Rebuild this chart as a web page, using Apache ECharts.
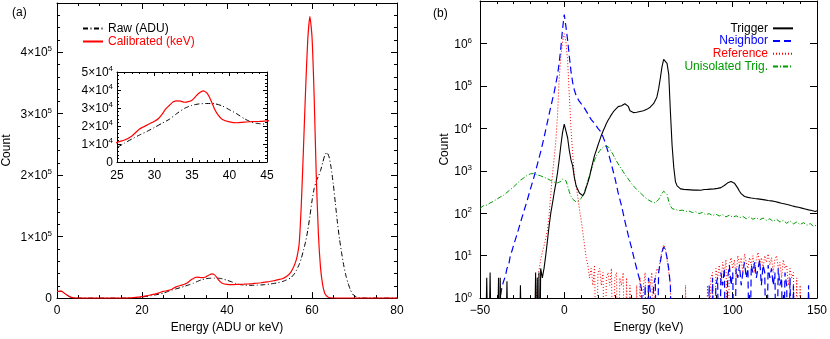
<!DOCTYPE html>
<html>
<head>
<meta charset="utf-8">
<script src="https://cdn.jsdelivr.net/npm/echarts@6/dist/echarts.min.js"></script>
<style>html,body{margin:0;padding:0;background:#fff}#c{width:830px;height:339px}</style>
</head>
<body>
<div id="c"></div>
<script>
// ---------- Panel (a): energy spectra, linear scale ----------
const rawADU = [[0,10500],[1,11000],[2,6200],[3,2000],[4,400],[5,100],[6,0],[10,0],[14,0],[16,50],[17,200],[18,600],[19,1100],[20,1800],[21,2700],[22,3800],[23,5000],[24,6400],[25,8000],[26,10500],[27,12800],[28,15000],[29,17000],[30,19200],[31,21500],[32,23800],[33,27000],[34,29800],[35,31500],[36,32300],[37,32500],[38,32400],[39,31200],[40,29000],[41,26700],[42,24000],[43,22000],[44,21300],[45,21000],[46,20800],[47,21000],[48,21400],[49,22000],[50,22800],[51,23800],[52,25000],[53,26800],[54,29500],[55,33000],[56,41000],[57,55000],[57.5,65000],[58,78000],[58.5,92000],[59,110000],[59.5,133000],[60,158000],[60.5,178000],[61,190000],[61.5,198000],[62,207000],[62.5,220000],[63,232000],[63.5,237000],[64,230000],[64.5,212000],[65,186000],[65.5,154000],[66,122000],[66.5,95000],[67,72000],[67.5,52000],[68,36000],[68.5,24000],[69,14000],[69.5,7000],[70,3500],[71,800],[72,100],[73,0],[80,0]];

const calibratedKeV = [[0,11000],[1,11500],[2,6500],[3,2200],[4,400],[5,100],[6,0],[10,0],[14,0],[16,100],[17,300],[18,800],[19,1500],[20,2500],[21,3600],[22,5000],[23,6500],[24,8500],[25,10900],[26,12200],[27,14500],[28,18300],[29,20500],[30,22600],[30.5,24000],[31,26500],[31.5,29500],[32,31500],[32.5,33500],[33,34000],[33.5,33800],[34,33200],[34.5,33500],[35,34300],[35.5,36500],[36,38500],[36.5,39500],[37,38200],[37.5,34500],[38,29500],[38.5,26000],[39,23800],[40,22300],[41,21800],[42,22200],[43,22400],[44,22600],[45,22900],[46,23500],[47,24200],[48,25000],[49,26000],[50,27000],[51,28200],[52,30000],[53,31500],[54,35000],[55,42000],[55.5,48000],[56,56000],[56.5,68000],[57,90000],[57.5,155000],[58,245000],[58.5,340000],[59,420000],[59.5,458000],[60,425000],[60.5,330000],[61,200000],[61.5,105000],[62,50000],[62.5,22000],[63,8000],[63.5,3000],[64,1000],[65,200],[66,0],[70,0],[80,0]];

// ---------- Panel (b): spectra, log scale (0.01 = empty bin) ----------
const triggerSpec = [[-50,0.01],[-47,0.01],[-46,3],[-45,0.01],[-44,4],[-43,0.01],[-40,0.01],[-39,3],[-38.5,0.01],[-38,3],[-37,0.01],[-35,0.01],[-34,2.5],[-33,0.01],[-27,0.01],[-26,2],[-25,0.01],[-18,0.01],[-17,4],[-16.5,0.01],[-16,3],[-15.5,0.01],[-15,4],[-14.5,0.01],[-14,5],[-13,3],[-12,5],[-11,10],[-10,22],[-9,50],[-8,100],[-7,170],[-6,300],[-5,500],[-4,900],[-3,1800],[-2,4000],[-1,8000],[0,12500],[0.5,13000],[1,11500],[2,6000],[3,3000],[4,1800],[5,1300],[6,700],[7,450],[8,360],[9,300],[10,270],[11,260],[12,300],[13,400],[14,530],[15,720],[16,1100],[17,1600],[18,2300],[19,3000],[20,4000],[21,5200],[22,6800],[23,8500],[24,10500],[25,13000],[26,15500],[27,18000],[28,21000],[29,24000],[30,27000],[31,30000],[32,32500],[33,34000],[34,34000],[35,35500],[36,38000],[37,39000],[38,33000],[39,26000],[40,24000],[41,23500],[42,23500],[43,24000],[44,24500],[45,25000],[46,25500],[47,26000],[48,27000],[49,28000],[50,29500],[51,31500],[52,34000],[53,38000],[54,45000],[55,55000],[56,85000],[57,150000],[58,280000],[59,420000],[60,455000],[61,340000],[62,190000],[63,25000],[64,4000],[65,1200],[66,550],[67,440],[68,400],[69,375],[70,370],[71,365],[72,372],[73,360],[74,368],[75,355],[76,362],[77,350],[78,358],[79,352],[80,360],[81,348],[82,356],[83,362],[84,352],[85,365],[86,358],[87,370],[88,362],[89,375],[90,370],[91,385],[92,380],[93,400],[94,420],[95,450],[96,480],[97,520],[98,545],[99,560],[100,545],[101,510],[102,460],[103,390],[104,330],[105,290],[106,262],[107,248],[108,240],[109,236],[110,232],[111,228],[112,233],[113,222],[114,226],[115,218],[116,224],[117,212],[118,218],[119,206],[120,212],[121,200],[122,205],[123,195],[124,199],[125,188],[126,194],[127,180],[128,186],[129,172],[130,178],[131,165],[132,172],[133,158],[134,163],[135,150],[136,156],[137,143],[138,150],[139,138],[140,144],[141,132],[142,138],[143,126],[144,132],[145,120],[146,125],[147,116],[148,121],[149,110],[150,114]];

const neighborSpec = [[-40,0.01],[-38,1],[-37,1.8],[-36,2.5],[-35,3.2],[-34,5],[-33,6],[-32,10],[-31,13],[-30,18],[-28,32],[-26,60],[-24,110],[-22,200],[-20,380],[-18,700],[-16,1400],[-14,2800],[-12,6000],[-10,14000],[-8,32000],[-6,70000],[-4,180000],[-3,350000],[-2,800000],[-1,2200000],[0,4800000],[1,2500000],[2,1200000],[3,500000],[4,220000],[5,120000],[6,80000],[7,60000],[8,50000],[9,43000],[10,38000],[12,30000],[14,22000],[16,16000],[18,13000],[20,10000],[22,8000],[24,5000],[26,2800],[28,1400],[30,700],[32,300],[34,150],[36,65],[38,30],[40,15],[42,7],[44,3.5],[45,2.5],[46,1.5],[47,0.01],[48,2],[49,0.01],[50,3],[51,1.5],[52,0.01],[53,2],[54,3],[55,0.01],[56,4],[57,7],[58,12],[59,16],[60,14],[61,9],[62,5],[63,2],[64,0.01],[85,0.01],[86,2],[87,0.01],[88,3],[89,0.01],[90,2],[91,3],[92,0.01],[93,4],[94,2],[95,5],[96,0.01],[97,3],[98,6],[99,2],[100,4],[101,0.01],[102,5],[103,3],[104,6],[105,2],[106,4],[107,7],[108,3],[109,5],[110,0.01],[111,6],[112,4],[113,7],[114,3],[115,5],[116,8],[117,2],[118,6],[119,4],[120,0.01],[121,6],[122,3],[123,5],[124,2],[125,4],[126,0.01],[127,5],[128,2],[129,3],[130,0.01],[131,4],[132,2],[133,0.01],[134,3],[135,0.01],[136,2],[137,0.01],[144,0.01],[145,2],[146,0.01],[150,0.01]];

const referenceSpec = [[-18,0.01],[-17,0.5],[-16,2],[-15,4.5],[-14,8],[-13,12],[-12,17],[-11,25],[-10,40],[-9,90],[-8,280],[-7,800],[-6,2000],[-5,5000],[-4,20000],[-3,150000],[-2,500000],[-1,1100000],[0,1700000],[1,1100000],[2,400000],[3,60000],[4,10000],[5,2500],[6,700],[7,450],[8,250],[9,125],[10,70],[11,36],[12,18],[13,9],[14,6],[15,3],[16,5],[17,2],[18,6],[19,0.01],[20,4],[21,5],[22,2],[23,4],[24,0.01],[25,3],[26,4],[27,2],[28,5],[29,0.01],[30,3],[31,4],[32,0.01],[33,3],[34,2],[35,4],[36,0.01],[37,3],[38,0.01],[39,2],[40,0.01],[42,0.01],[43,2],[44,0.01],[45,3],[46,0.01],[47,2],[48,4],[49,0.01],[50,3],[51,2],[52,4],[53,0.01],[54,3],[55,5],[56,4],[57,8],[58,13],[59,18],[60,15],[61,8],[62,4],[63,2],[64,0.01],[71,0.01],[72,2],[73,0.01],[84,0.01],[85,2],[86,0.01],[87,3],[88,4],[89,0.01],[90,5],[91,3],[92,6],[93,2],[94,7],[95,4],[96,8],[97,0.01],[98,6],[99,9],[100,5],[101,8],[102,3],[103,10],[104,6],[105,9],[106,4],[107,11],[108,7],[109,5],[110,9],[111,6],[112,10],[113,4],[114,8],[115,12],[116,6],[117,9],[118,5],[119,10],[120,7],[121,11],[122,6],[123,9],[124,4],[125,8],[126,10],[127,5],[128,7],[129,3],[130,8],[131,5],[132,6],[133,2],[134,5],[135,3],[136,4],[137,0.01],[138,3],[139,0.01],[140,2],[141,0.01],[150,0.01]];

const unisolatedSpec = [[-50,130],[-48,150],[-46,155],[-44,175],[-42,190],[-40,215],[-38,240],[-36,265],[-34,310],[-32,360],[-30,420],[-28,500],[-26,600],[-24,680],[-22,780],[-20,850],[-18,860],[-16,800],[-14,760],[-12,700],[-10,650],[-8,590],[-6,540],[-4,520],[-2,560],[-1,640],[0,680],[1,580],[2,440],[3,320],[4,250],[5,215],[6,195],[7,185],[8,190],[9,200],[10,225],[11,260],[12,320],[13,420],[14,580],[15,780],[16,1050],[17,1400],[18,1800],[19,2200],[20,2600],[21,2950],[22,3300],[23,3600],[24,3850],[25,3900],[26,3700],[27,3300],[28,2800],[29,2400],[30,2000],[31,1700],[32,1450],[33,1250],[34,1100],[35,950],[36,820],[37,720],[38,640],[39,560],[40,490],[42,400],[44,330],[46,280],[48,235],[50,205],[52,185],[54,175],[55,185],[56,210],[57,245],[58,290],[59,330],[60,340],[61,280],[62,190],[63,150],[64,128],[66,122],[68,115],[70,118],[72,110],[74,113],[76,104],[78,108],[80,98],[82,104],[84,92],[86,98],[88,88],[90,95],[92,86],[94,92],[96,82],[98,90],[100,80],[102,87],[104,78],[106,84],[108,74],[110,82],[112,72],[114,78],[116,70],[118,77],[120,68],[122,74],[124,64],[126,72],[128,62],[130,68],[132,58],[134,66],[136,56],[138,62],[140,54],[142,60],[144,52],[146,57],[148,49],[150,53]];

// ---------- Styles ----------
const FONT = 'Liberation Sans, Arial, Helvetica, sans-serif';
const BLACK = '#000000', RED = '#ff0000', BLUE = '#0000ff', GREEN = '#009a00';
const rich = {
  b: {fontSize: 12, lineHeight: 14, color: BLACK, fontFamily: FONT, verticalAlign: 'bottom'},
  s: {fontSize: 8, lineHeight: 8, color: BLACK, fontFamily: FONT, verticalAlign: 'top', padding: [0, 0, 9, 0]}
};
function sciFmt(exp, step) {
  return function (v) {
    if (v === 0) return '{b|0}';
    const n = Math.round(v / step);
    return '{b|' + n + '×10}{s|' + exp + '}';
  };
}
function logFmt(v) {
  const e = Math.round(Math.log10(v));
  return '{b|10}{s|' + e + '}';
}
function minusFmt(v) { return v < 0 ? '\u2212' + (-v) : String(v); }

function tick(len) { return {show: true, inside: true, length: len, lineStyle: {color: BLACK, width: 1}}; }
function minor(n, len) { return {show: true, splitNumber: n, length: len, lineStyle: {color: BLACK, width: 1}}; }
function axisBase(extra) {
  return Object.assign({
    show: true,
    axisLine: {show: true, onZero: false, lineStyle: {color: BLACK, width: 1}},
    axisTick: tick(6),
    minorTick: {show: false},
    splitLine: {show: false},
    minorSplitLine: {show: false},
    axisLabel: {color: BLACK, fontSize: 12, fontFamily: FONT}
  }, extra);
}
function merge(a, b) { return Object.assign({}, a, b); }
const nameStyle = {color: BLACK, fontSize: 12, fontFamily: FONT};

const leftX = {type: 'value', min: 0, max: 80, interval: 20};
const leftY = {type: 'value', min: 0, max: 480000, interval: 100000};
const rightX = {type: 'value', min: -50, max: 150, interval: 50};
const rightY = {type: 'log', min: 1, max: 1e7, logBase: 10, splitNumber: 7};
const insetX = {type: 'value', min: 25, max: 45, interval: 5};
const insetY = {type: 'value', min: 0, max: 50000, interval: 10000};

const chart = echarts.init(document.getElementById('c'), null, {renderer: 'canvas'});
chart.setOption({
  animation: false,
  backgroundColor: '#fff',
  textStyle: {fontFamily: FONT},
  grid: [
    {left: 57, top: 3, width: 340, height: 300},
    {left: 480, top: 1, width: 338, height: 303},
    {left: 117, top: 72, width: 150, height: 90, show: true, backgroundColor: '#fff', borderWidth: 0}
  ],
  graphic: [
    {type: 'text', left: 12, top: 7, style: {text: '(a)', fontSize: 12, fontFamily: FONT, fill: BLACK}},
    {type: 'text', left: 433, top: 8, style: {text: '(b)', fontSize: 12, fontFamily: FONT, fill: BLACK}}
  ],
  legend: [
    {
      orient: 'vertical', left: 77, top: 17, itemWidth: 20, itemHeight: 8, itemGap: 0,
      selectedMode: false, itemStyle: {opacity: 0},
      textStyle: {fontSize: 12, lineHeight: 13, fontFamily: FONT},
      data: [
        {name: 'Raw (ADU)', textStyle: {color: BLACK}},
        {name: 'Calibrated (keV)', textStyle: {color: RED}}
      ]
    },
    {
      orient: 'vertical', right: 31, top: 17, itemWidth: 20, itemHeight: 8, itemGap: 0,
      align: 'right', selectedMode: false, itemStyle: {opacity: 0},
      textStyle: {fontSize: 12, lineHeight: 12.7, fontFamily: FONT},
      data: [
        {name: 'Trigger', textStyle: {color: BLACK}},
        {name: 'Neighbor', textStyle: {color: BLUE}},
        {name: 'Reference', textStyle: {color: RED}},
        {name: 'Unisolated Trig.', textStyle: {color: GREEN}}
      ]
    }
  ],
  xAxis: [
    axisBase(merge(leftX, {gridIndex: 0, position: 'bottom', minorTick: minor(4, 3),
      axisLabel: {color: BLACK, fontSize: 12, fontFamily: FONT, margin: 7},
      name: 'Energy (ADU or keV)', nameLocation: 'middle', nameGap: 21, nameTextStyle: nameStyle})),
    axisBase(merge(leftX, {gridIndex: 0, position: 'top', minorTick: minor(4, 3), axisLabel: {show: false}})),
    axisBase(merge(rightX, {gridIndex: 1, position: 'bottom', minorTick: minor(5, 3),
      axisLabel: {color: BLACK, fontSize: 12, fontFamily: FONT, margin: 7, formatter: minusFmt},
      name: 'Energy (keV)', nameLocation: 'middle', nameGap: 20, nameTextStyle: nameStyle})),
    axisBase(merge(rightX, {gridIndex: 1, position: 'top', minorTick: minor(5, 3), axisLabel: {show: false}})),
    axisBase(merge(insetX, {gridIndex: 2, position: 'bottom', axisTick: tick(4), minorTick: minor(5, 2),
      axisLabel: {color: BLACK, fontSize: 12, fontFamily: FONT, margin: 8}})),
    axisBase(merge(insetX, {gridIndex: 2, position: 'top', axisTick: tick(4), minorTick: minor(5, 2),
      axisLabel: {show: false}}))
  ],
  yAxis: [
    axisBase(merge(leftY, {gridIndex: 0, position: 'left', minorTick: minor(5, 3),
      axisLabel: {fontSize: 12, margin: 5, showMaxLabel: false, formatter: sciFmt(5, 1e5), rich: rich},
      name: 'Count', nameLocation: 'middle', nameGap: 44, nameTextStyle: nameStyle})),
    axisBase(merge(leftY, {gridIndex: 0, position: 'right', minorTick: minor(5, 3), axisLabel: {show: false}})),
    axisBase(merge(rightY, {gridIndex: 1, position: 'left', axisTick: tick(7),
      axisLabel: {fontSize: 12, margin: 8, showMaxLabel: false, formatter: logFmt, rich: rich},
      name: 'Count', nameLocation: 'middle', nameGap: 29, nameTextStyle: nameStyle})),
    axisBase(merge(rightY, {gridIndex: 1, position: 'right', axisTick: tick(7), axisLabel: {show: false}})),
    axisBase(merge(insetY, {gridIndex: 2, position: 'left', axisTick: tick(4), minorTick: minor(5, 2),
      axisLabel: {fontSize: 12, margin: 4, formatter: sciFmt(4, 1e4), rich: rich}})),
    axisBase(merge(insetY, {gridIndex: 2, position: 'right', axisTick: tick(4), minorTick: minor(5, 2),
      axisLabel: {show: false}}))
  ],
  series: [
    {name: 'Raw (ADU)', type: 'line', xAxisIndex: 0, yAxisIndex: 0, data: rawADU,
     symbol: 'none', smooth: 0.2, clip: true,
     lineStyle: {color: BLACK, width: 1, type: [5, 2.5, 1, 2.5]}, itemStyle: {color: BLACK}},
    {name: 'Calibrated (keV)', type: 'line', xAxisIndex: 0, yAxisIndex: 0, data: calibratedKeV,
     symbol: 'none', smooth: 0.2, clip: true,
     lineStyle: {color: RED, width: 1.2, type: 'solid'}, itemStyle: {color: RED}},
    {name: 'Raw (ADU)', type: 'line', xAxisIndex: 4, yAxisIndex: 4, data: rawADU, z: 5,
     symbol: 'none', smooth: 0.2, clip: true,
     lineStyle: {color: BLACK, width: 1, type: [5, 2.5, 1, 2.5]}, itemStyle: {color: BLACK}},
    {name: 'Calibrated (keV)', type: 'line', xAxisIndex: 4, yAxisIndex: 4, data: calibratedKeV, z: 5,
     symbol: 'none', smooth: 0.2, clip: true,
     lineStyle: {color: RED, width: 1.2, type: 'solid'}, itemStyle: {color: RED}},
    {name: 'Reference', type: 'line', xAxisIndex: 2, yAxisIndex: 2, data: referenceSpec,
     symbol: 'none', clip: true,
     lineStyle: {color: RED, width: 1, type: [1, 2]}, itemStyle: {color: RED}},
    {name: 'Neighbor', type: 'line', xAxisIndex: 2, yAxisIndex: 2, data: neighborSpec,
     symbol: 'none', clip: true,
     lineStyle: {color: BLUE, width: 1.2, type: [7, 4]}, itemStyle: {color: BLUE}},
    {name: 'Unisolated Trig.', type: 'line', xAxisIndex: 2, yAxisIndex: 2, data: unisolatedSpec,
     symbol: 'none', clip: true,
     lineStyle: {color: GREEN, width: 1, type: [5, 2, 1, 2]}, itemStyle: {color: GREEN}},
    {name: 'Trigger', type: 'line', xAxisIndex: 2, yAxisIndex: 2, data: triggerSpec,
     symbol: 'none', clip: true,
     lineStyle: {color: BLACK, width: 1.1, type: 'solid'}, itemStyle: {color: BLACK}}
  ]
});
</script>
</body>
</html>
